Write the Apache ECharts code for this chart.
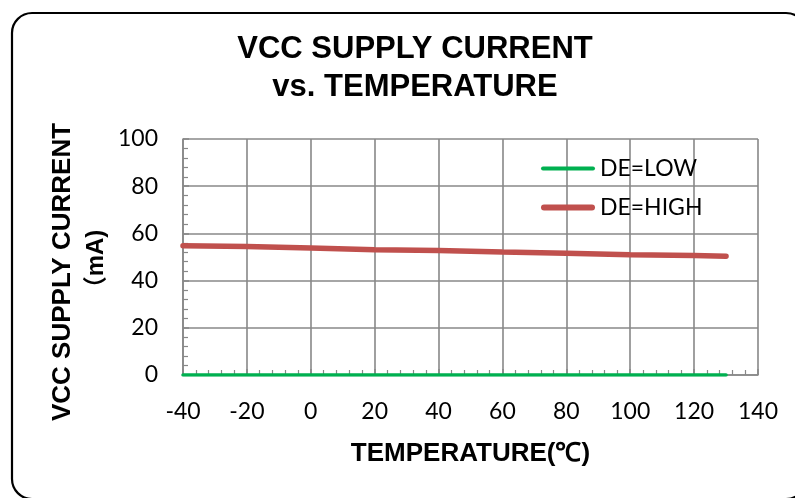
<!DOCTYPE html>
<html>
<head>
<meta charset="utf-8">
<script src="https://cdn.jsdelivr.net/npm/echarts@6/dist/echarts.min.js"></script>
<style>html,body{margin:0;padding:0;background:#fff;}#c{width:795px;height:498px;}</style>
</head>
<body>
<div id="c"></div>
<script>
const temps = [-40, -20, 0, 20, 40, 60, 80, 100, 120, 130];
const deLow = [0, 0, 0, 0, 0, 0, 0, 0, 0, 0];
const deHigh = [54.8, 54.4, 53.8, 53.1, 52.8, 52.1, 51.6, 51.0, 50.6, 50.3];
const seriesNames = ['DE=LOW', 'DE=HIGH'];
const xTicks = [-40, -20, 0, 20, 40, 60, 80, 100, 120, 140];
const yTicks = [0, 20, 40, 60, 80, 100];

const chart = echarts.init(document.getElementById('c'), null, {renderer: 'canvas'});
const gridColor = '#888888';
const labelFont = 'Lato';
const boldFont = '"Liberation Sans", Arial, sans-serif';
const lowColor = '#00B050';
const highColor = '#C0504D';

chart.setOption({
  animation: false,
  backgroundColor: '#fff',
  title: {
    text: 'VCC SUPPLY CURRENT\nvs. TEMPERATURE',
    left: 410, top: 25, textAlign: 'center',
    textStyle: {fontFamily: boldFont, fontWeight: 'bold', fontSize: 31, lineHeight: 38, color: '#000'}
  },
  legend: {
    orient: 'vertical', left: 541, top: 157, padding: 0,
    itemWidth: 54, itemHeight: 14, itemGap: 16,
    symbolKeepAspect: true,
    textStyle: {fontFamily: labelFont, fontSize: 23, color: '#000'},
    data: [
      {name: seriesNames[0], icon: 'path://M2,0H52A2,2 0 0 1 52,4H2A2,2 0 0 1 2,0Z', itemStyle: {color: lowColor}},
      {name: seriesNames[1], icon: 'path://M3,0H51A3,3 0 0 1 51,6H3A3,3 0 0 1 3,0Z', itemStyle: {color: highColor}}
    ]
  },
  grid: {left: 183, right: 37, top: 139, bottom: 123, containLabel: false},
  xAxis: {
    type: 'value', min: xTicks[0], max: xTicks[xTicks.length - 1], interval: 20,
    name: 'TEMPERATURE(℃)', nameLocation: 'middle', nameGap: 66,
    nameTextStyle: {fontFamily: boldFont, fontWeight: 'bold', fontSize: 26, color: '#000'},
    axisLine: {show: true, onZero: false, lineStyle: {color: gridColor, width: 1.6}},
    axisTick: {show: true, inside: true, length: 6, lineStyle: {color: gridColor, width: 1.5}},
    minorTick: {show: true, splitNumber: 5, length: 5, lineStyle: {color: gridColor, width: 1.2}},
    axisLabel: {margin: 25, fontFamily: labelFont, fontSize: 23, color: '#000'},
    splitLine: {show: true, lineStyle: {color: gridColor, width: 1.6}}
  },
  yAxis: {
    type: 'value', min: yTicks[0], max: yTicks[yTicks.length - 1], interval: 20,
    axisLine: {show: true, onZero: false, lineStyle: {color: gridColor, width: 1.6}},
    axisTick: {show: true, inside: true, length: 6, lineStyle: {color: gridColor, width: 1.5}},
    minorTick: {show: true, splitNumber: 5, length: 5, lineStyle: {color: gridColor, width: 1.2}},
    axisLabel: {margin: 25, fontFamily: labelFont, fontSize: 23, color: '#000'},
    splitLine: {show: true, lineStyle: {color: gridColor, width: 1.6}}
  },
  series: [
    {
      name: seriesNames[0], type: 'line', showSymbol: false, symbol: 'none', z: 5,
      data: temps.map((t, i) => [t, deLow[i]]),
      lineStyle: {color: lowColor, width: 3.5, cap: 'round'},
      itemStyle: {color: lowColor}
    },
    {
      name: seriesNames[1], type: 'line', showSymbol: false, symbol: 'none', z: 5,
      data: temps.map((t, i) => [t, deHigh[i]]),
      lineStyle: {color: highColor, width: 5.5, cap: 'round'},
      itemStyle: {color: highColor}
    }
  ],
  graphic: [
    {
      type: 'rect', silent: true, z: 100,
      shape: {x: 12, y: 13, width: 794, height: 486, r: 20},
      style: {fill: 'none', stroke: '#000', lineWidth: 2.2}
    },
    {
      type: 'text', x: 63, y: 272, rotation: Math.PI / 2, z: 100,
      style: {text: 'VCC SUPPLY CURRENT', font: 'bold 26px "Liberation Sans", Arial, sans-serif',
              fill: '#000', textAlign: 'center', textVerticalAlign: 'middle'}
    },
    {
      type: 'text', x: 96, y: 265, rotation: Math.PI / 2, z: 100,
      style: {text: '（mA)', font: 'bold 24px "Liberation Sans", "Noto Sans CJK SC", sans-serif',
              fill: '#000', textAlign: 'center', textVerticalAlign: 'middle'}
    }
  ]
});
</script>
</body>
</html>
